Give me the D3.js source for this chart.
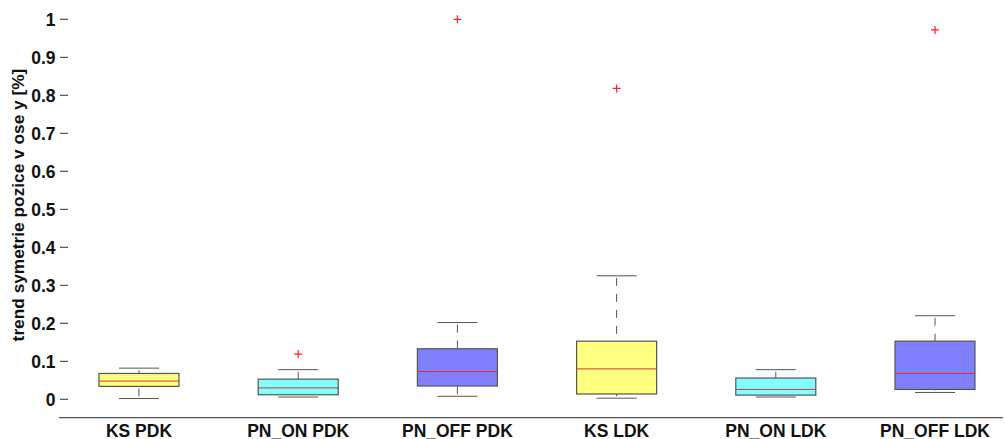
<!DOCTYPE html>
<html>
<head>
<meta charset="utf-8">
<script src="https://cdn.jsdelivr.net/npm/d3@7"></script>
<style>
  body { margin: 0; background: #fff; }
  text { font-family: "Liberation Sans", Arial, sans-serif; font-weight: bold; }
</style>
</head>
<body>
<svg width="1005" height="439"></svg>
<script>
// skupiny a jejich statistiky (odhad z obrazku)
const categories = ["KS PDK", "PN_ON PDK", "PN_OFF PDK", "KS LDK", "PN_ON LDK", "PN_OFF LDK"];
const whiskerLow  = [0.002, 0.006, 0.008, 0.003, 0.006, 0.018];
const q1          = [0.034, 0.012, 0.035, 0.014, 0.011, 0.026];
const median      = [0.048, 0.030, 0.073, 0.080, 0.026, 0.068];
const q3          = [0.068, 0.053, 0.133, 0.153, 0.056, 0.153];
const whiskerHigh = [0.082, 0.078, 0.202, 0.325, 0.078, 0.220];
const outliers    = [[], [0.119], [1.0], [0.818], [], [0.972]];
const fills       = ["#ffff80", "#80ffff", "#8080ff", "#ffff80", "#80ffff", "#8080ff"];
const yTicks      = [0, 0.1, 0.2, 0.3, 0.4, 0.5, 0.6, 0.7, 0.8, 0.9, 1];

let svg = d3.select("svg");

let x = d3.scalePoint()
    .domain(categories)
    .range([139, 935]);

let y = d3.scaleLinear()
    .domain([0, 1])
    .range([399.3, 19.3]);

let boxW = 80, capW = 40;

let data = categories.map(function (c, i) {
    return {
        name: c, lo: whiskerLow[i], q1: q1[i], med: median[i],
        q3: q3[i], hi: whiskerHigh[i], out: outliers[i], fill: fills[i]
    };
});

// osa y - jen carky a popisky
let yAxis = svg.append("g");
yTicks.forEach(function (t) {
    yAxis.append("line")
        .attr("x1", 60).attr("x2", 68)
        .attr("y1", y(t)).attr("y2", y(t))
        .attr("stroke", "#333").attr("stroke-width", 1);
    yAxis.append("text")
        .attr("x", 55.5).attr("y", y(t)).attr("dy", "0.36em")
        .attr("text-anchor", "end")
        .attr("font-size", 17.5)
        .attr("fill", "#111")
        .text(d3.format("")(t));
});

svg.append("text")
    .attr("transform", "translate(24,205)rotate(-90)")
    .attr("text-anchor", "middle")
    .attr("font-size", 17.3)
    .attr("fill", "#111")
    .text("trend symetrie pozice v ose y [%]");

// osa x
svg.append("line")
    .attr("x1", 59).attr("x2", 1003)
    .attr("y1", 417.7).attr("y2", 417.7)
    .attr("stroke", "#555").attr("stroke-width", 1.2);

svg.append("g").selectAll("text")
    .data(categories)
    .enter().append("text")
    .attr("x", function (d) { return x(d); })
    .attr("y", 436.5)
    .attr("text-anchor", "middle")
    .attr("font-size", 17.5)
    .attr("fill", "#111")
    .text(function (d) { return d; });

let g = svg.append("g").selectAll("g")
    .data(data)
    .enter().append("g")
    .attr("transform", function (d) { return "translate(" + x(d.name) + ",0)"; });

// whiskers (carkovane), kresleno od cap smerem k boxu
g.append("line")
    .attr("y1", function (d) { return y(d.hi) + 2; })
    .attr("y2", function (d) { return y(d.q3); })
    .attr("stroke", "#555").attr("stroke-dasharray", "8,8");
g.append("line")
    .attr("y1", function (d) { return y(d.lo) - 2; })
    .attr("y2", function (d) { return y(d.q1); })
    .attr("stroke", "#555").attr("stroke-dasharray", "8,8");

// caps
g.append("line")
    .attr("x1", -capW / 2).attr("x2", capW / 2)
    .attr("y1", function (d) { return y(d.hi); })
    .attr("y2", function (d) { return y(d.hi); })
    .attr("stroke", "#555");
g.append("line")
    .attr("x1", -capW / 2).attr("x2", capW / 2)
    .attr("y1", function (d) { return y(d.lo); })
    .attr("y2", function (d) { return y(d.lo); })
    .attr("stroke", "#555");

// box
g.append("rect")
    .attr("x", -boxW / 2).attr("width", boxW)
    .attr("y", function (d) { return y(d.q3); })
    .attr("height", function (d) { return y(d.q1) - y(d.q3); })
    .attr("fill", function (d) { return d.fill; })
    .attr("stroke", "#555").attr("stroke-width", 1.2);

// median
g.append("line")
    .attr("x1", -boxW / 2).attr("x2", boxW / 2)
    .attr("y1", function (d) { return y(d.med); })
    .attr("y2", function (d) { return y(d.med); })
    .attr("stroke", "#e03030");

// odlehle hodnoty
g.selectAll("path.out")
    .data(function (d) { return d.out; })
    .enter().append("path")
    .attr("class", "out")
    .attr("d", function (v) {
        let cy = y(v);
        return "M-4," + cy + "H4M0," + (cy - 4) + "V" + (cy + 4);
    })
    .attr("stroke", "#ff2020").attr("stroke-width", 1.2);
</script>
</body>
</html>
